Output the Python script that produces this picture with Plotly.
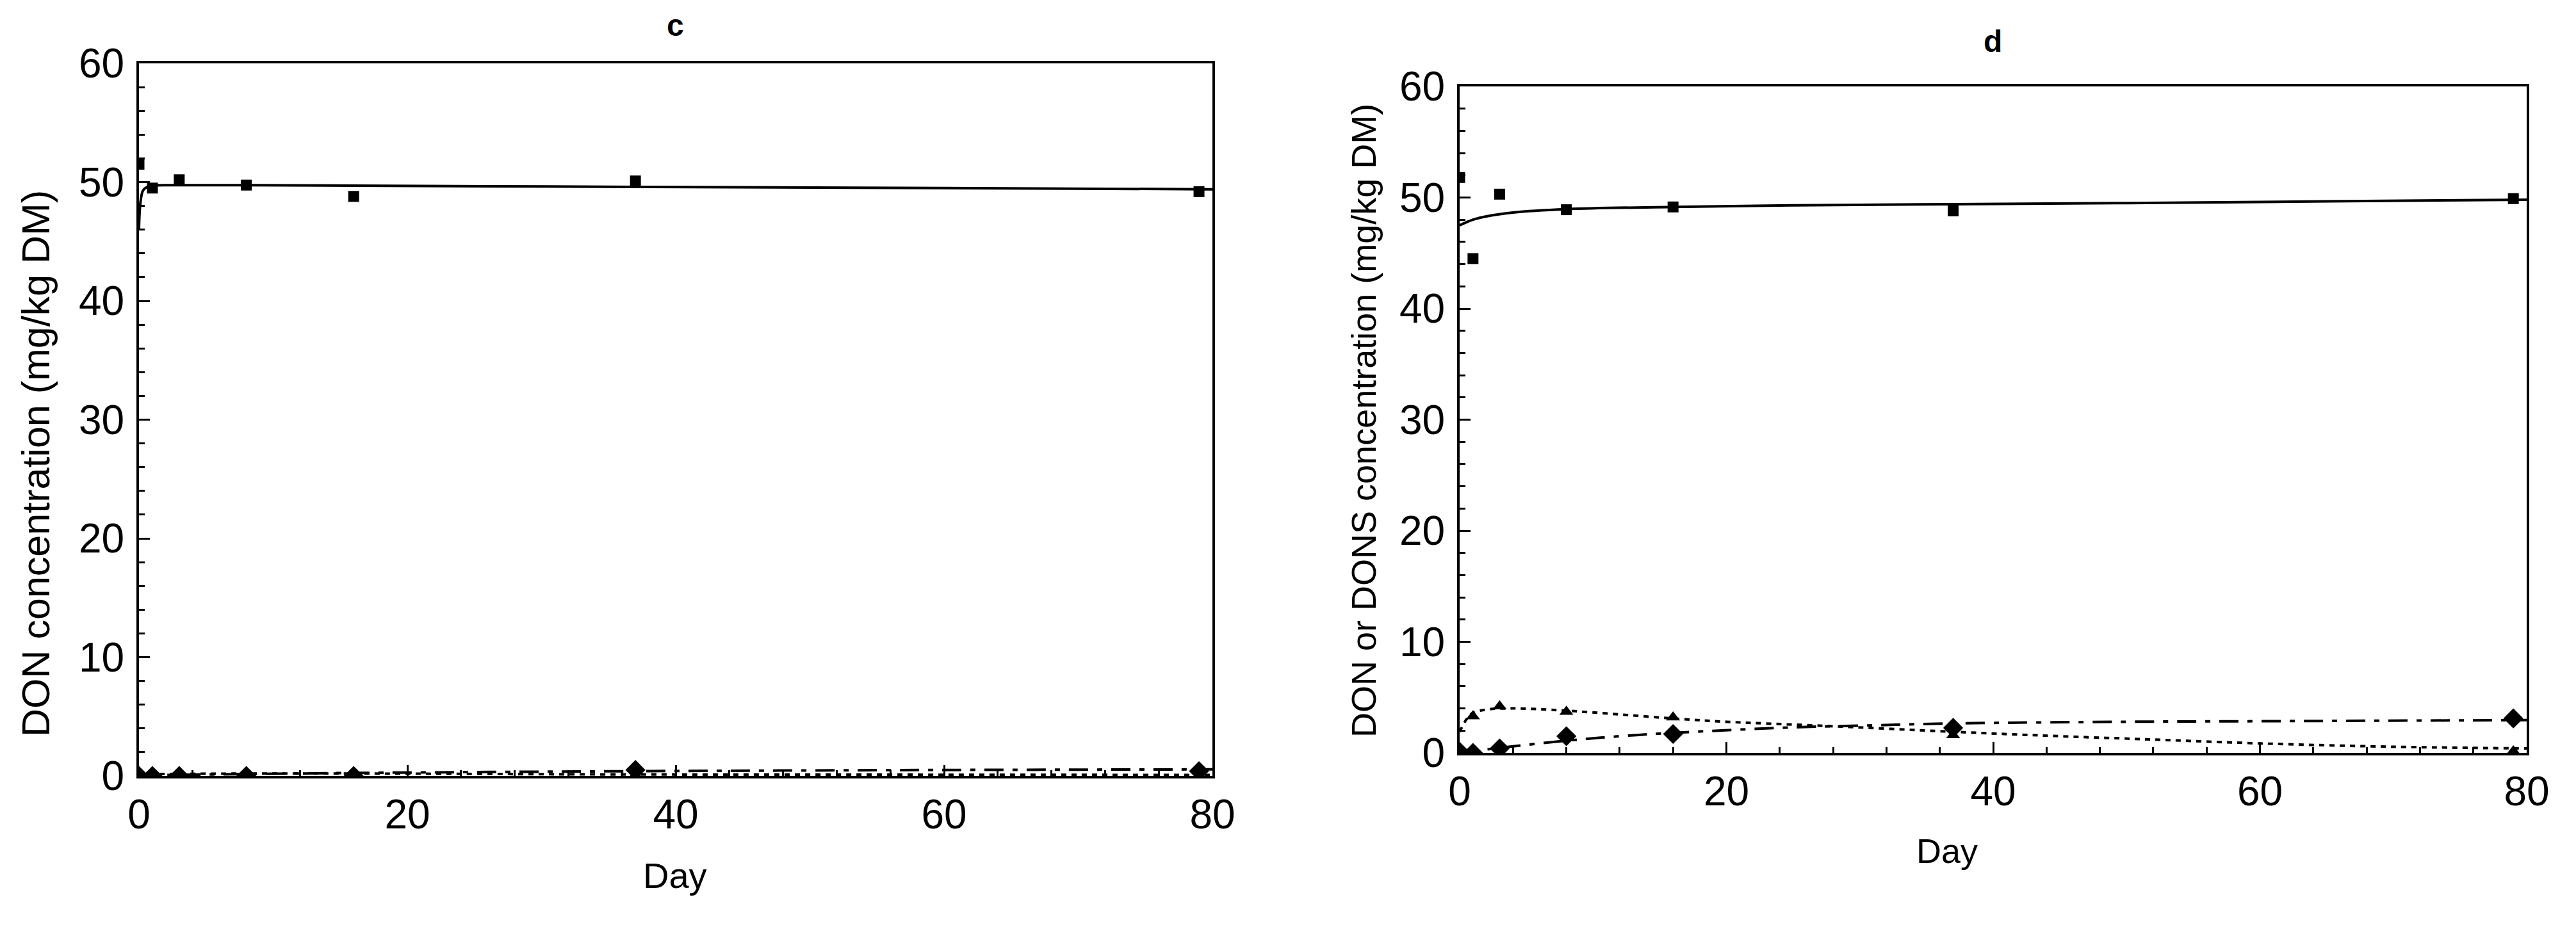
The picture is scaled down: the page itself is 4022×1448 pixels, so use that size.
import plotly.graph_objects as go

# ---------------- data ----------------
days = [0, 1, 3, 8, 16, 37, 79]

# panel c
c_don = [51.5, 49.5, 50.2, 49.75, 48.8, 50.1, 49.2]
c_tri = [0.1, 0.2, 0.2, 0.2, 0.2, 0.1, 0.05]
c_dia = [0.0, 0.0, 0.0, 0.0, 0.0, 0.5, 0.4]

c_fit_days = [0, 0.1, 0.3, 0.6, 1, 3, 8, 16, 37, 60, 80]
c_fit_don = [46.0, 48.2, 49.3, 49.6, 49.7, 49.75, 49.75, 49.7, 49.6, 49.5, 49.4]
c_fit_days2 = [0, 8, 16, 37, 60, 80]
c_fit_dia = [0.05, 0.15, 0.25, 0.4, 0.5, 0.55]
c_fit_tri = [0.15, 0.2, 0.2, 0.12, 0.1, 0.08]

# panel d
d_don = [51.8, 44.5, 50.3, 48.9, 49.15, 48.8, 49.9]
d_tri = [0.3, 3.3, 4.2, 3.7, 3.2, 1.6, 0.15]
d_dia = [0.1, 0.0, 0.4, 1.5, 1.7, 2.25, 3.1]

d_fit_days = [0, 1, 2, 4, 8, 16, 25, 37, 50, 65, 80]
d_fit_don = [47.5, 48.0, 48.3, 48.65, 48.95, 49.15, 49.3, 49.4, 49.5, 49.65, 49.8]
d_fit_tri_days = [0, 0.5, 1, 2, 4, 8, 16, 20, 27, 37, 45, 52, 60, 70, 80]
d_fit_tri = [1.9, 3.0, 3.6, 3.9, 4.0, 3.8, 3.1, 2.8, 2.45, 1.9, 1.5, 1.2, 0.85, 0.55, 0.4]
d_fit_dia_days = [0, 1, 3, 8, 12, 16, 25, 30, 37, 50, 60, 80]
d_fit_dia = [0.0, 0.15, 0.45, 1.1, 1.5, 1.8, 2.3, 2.45, 2.65, 2.8, 2.85, 2.95]

x_ticks = [0, 20, 40, 60, 80]
y_ticks = [0, 10, 20, 30, 40, 50, 60]

W, H = 4022, 1448
OFF = 8  # page body margin
FONT = "Liberation Sans, Arial, sans-serif"


def px(x):
    return (x - OFF) / W


def py(y):
    return 1 - (y - OFF) / H


fig = go.Figure()

DOT = "8px,8px"
DASHDOT = "30px,14px,8px,14px"


def add_panel(xa, ya, don, tri, dia, fd, fdon, ftd, ftri, fdd, fdia):
    kw = dict(xaxis=xa, yaxis=ya, showlegend=False)
    fig.add_trace(go.Scatter(x=fd, y=fdon, mode="lines", cliponaxis=False,
                             line=dict(color="black", width=4, shape="spline"), **kw))
    fig.add_trace(go.Scatter(x=ftd, y=ftri, mode="lines", cliponaxis=False,
                             line=dict(color="black", width=4, dash=DOT, shape="spline"), **kw))
    fig.add_trace(go.Scatter(x=fdd, y=fdia, mode="lines", cliponaxis=False,
                             line=dict(color="black", width=4, dash=DASHDOT, shape="spline"), **kw))
    fig.add_trace(go.Scatter(x=days, y=don, mode="markers", cliponaxis=True,
                             marker=dict(symbol="square", size=17, color="black"), **kw))
    fig.add_trace(go.Scatter(x=days, y=dia, mode="markers", cliponaxis=True,
                             marker=dict(symbol="diamond", size=24, color="black"), **kw))
    fig.add_trace(go.Scatter(x=days, y=tri, mode="markers", cliponaxis=True,
                             marker=dict(symbol="triangle-up", size=19, color="black"), **kw))


add_panel("x", "y", c_don, c_tri, c_dia, c_fit_days, c_fit_don,
          c_fit_days2, c_fit_tri, c_fit_days2, c_fit_dia)
add_panel("x2", "y2", d_don, d_tri, d_dia, d_fit_days, d_fit_don,
          d_fit_tri_days, d_fit_tri, d_fit_dia_days, d_fit_dia)

axis_common = dict(
    showline=True, linecolor="black", linewidth=4, mirror=True,
    showgrid=False, zeroline=False, automargin=False,
    ticks="inside", ticklen=17, tickwidth=3, tickcolor="black",
    tickfont=dict(family=FONT, size=64, color="black"),
)

xaxis_common = dict(axis_common, range=[0, 80], tickvals=x_ticks,
                    minor=dict(dtick=4, ticks="inside", ticklen=9, tickwidth=3, tickcolor="black"),
                    ticklabelstandoff=1)
yaxis_common = dict(axis_common, range=[0, 60], tickvals=y_ticks,
                    minor=dict(dtick=2, ticks="inside", ticklen=9, tickwidth=3, tickcolor="black"),
                    ticklabelstandoff=6)

# pixel boxes of the two plot areas (screen pixels)
L = dict(x0=217, x1=1893, y0=99, y1=1212)
R = dict(x0=2279, x1=3945, y0=135, y1=1176)

fig.update_layout(
    template="none",
    width=W, height=H,
    margin=dict(l=0, r=0, t=0, b=0, autoexpand=False),
    paper_bgcolor="white", plot_bgcolor="white",
    font=dict(family=FONT, color="black"),
    xaxis=dict(xaxis_common, domain=[px(L["x0"]), px(L["x1"])], anchor="y"),
    yaxis=dict(yaxis_common, domain=[py(L["y1"]), py(L["y0"])], anchor="x"),
    xaxis2=dict(xaxis_common, domain=[px(R["x0"]), px(R["x1"])], anchor="y2"),
    yaxis2=dict(yaxis_common, domain=[py(R["y1"]), py(R["y0"])], anchor="x2"),
)

ann = []
ann.append(dict(text="<b>c</b>", x=px(1054), y=1 - 3 / H, xref="paper", yref="paper",
                showarrow=False, font=dict(size=48, family=FONT), xanchor="center", yanchor="top"))
ann.append(dict(text="<b>d</b>", x=px(3111), y=py(64), xref="paper", yref="paper",
                showarrow=False, font=dict(size=48, family=FONT), xanchor="center", yanchor="middle"))
ann.append(dict(text="Day", x=px(1054), y=py(1367), xref="paper", yref="paper",
                showarrow=False, font=dict(size=56, family=FONT), xanchor="center", yanchor="middle"))
ann.append(dict(text="Day", x=px(3040), y=py(1329), xref="paper", yref="paper",
                showarrow=False, font=dict(size=54, family=FONT), xanchor="center", yanchor="middle"))
ann.append(dict(text="DON concentration (mg/kg DM)", x=px(56), y=py(724),
                xref="paper", yref="paper", textangle=-90, showarrow=False,
                font=dict(size=61, family=FONT), xanchor="center", yanchor="middle"))
ann.append(dict(text="DON or DONS concentration (mg/kg DM)", x=px(2129), y=py(657),
                xref="paper", yref="paper", textangle=-90, showarrow=False,
                font=dict(size=54, family=FONT), xanchor="center", yanchor="middle"))
fig.update_layout(annotations=ann)

fig.write_html("out.html")
